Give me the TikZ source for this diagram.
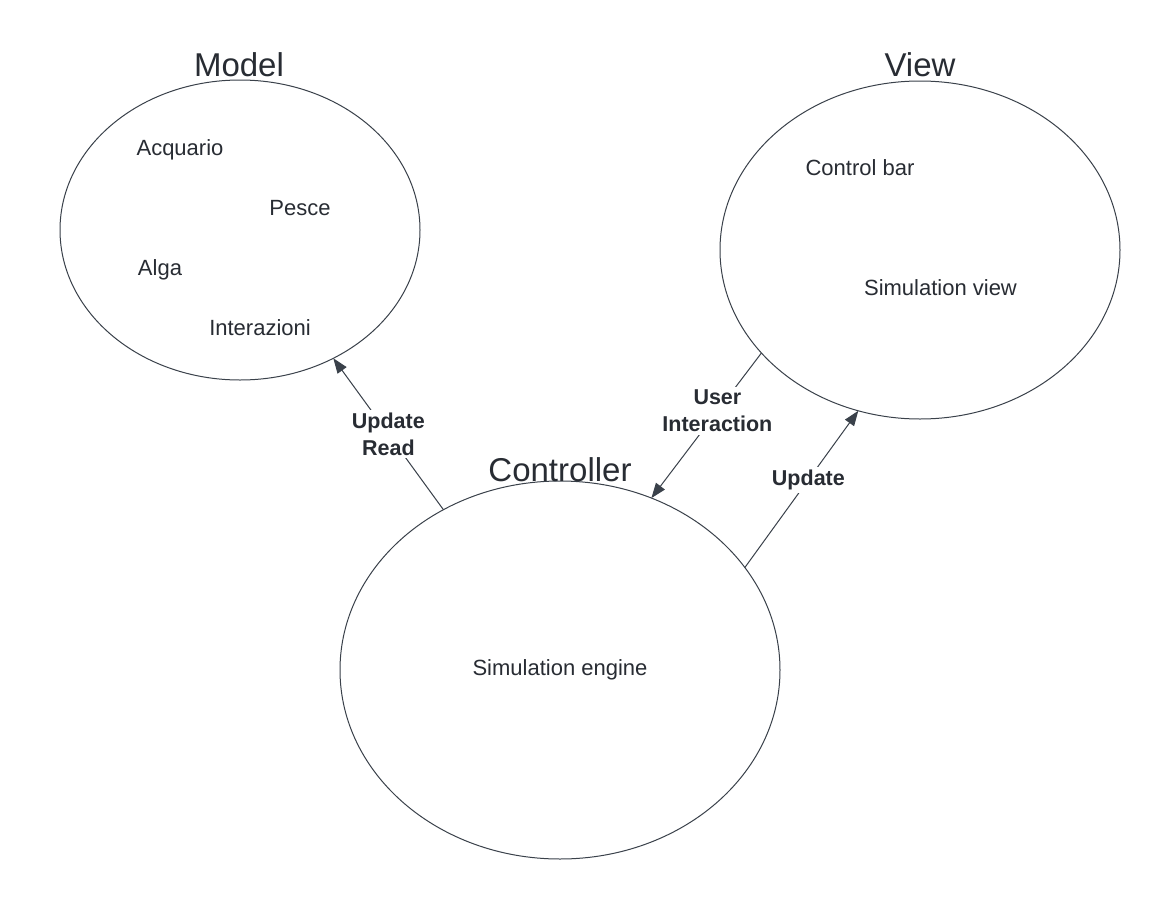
\documentclass[tikz,border=0pt]{standalone}
\usepackage{fontspec}
\setmainfont{Liberation Sans}
\usetikzlibrary{shapes.geometric,arrows.meta}
\definecolor{ink}{HTML}{282C33}
\definecolor{edge}{HTML}{3A414A}
\begin{document}
\begin{tikzpicture}[x=1pt,y=-1pt,
  blob/.style={draw=edge, line width=1pt, ellipse, inner sep=0pt, outer sep=0pt},
  title/.style={text=ink, font=\fontsize{33}{40}\selectfont, anchor=base, inner sep=0pt},
  item/.style={text=ink, font=\fontsize{22}{26}\selectfont, anchor=base, inner sep=0pt},
  lbl/.style={text=ink, font=\fontsize{21.5}{27}\selectfont\bfseries, fill=white, align=center, inner sep=3pt},
  conn/.style={draw=edge, line width=1pt, -{Triangle[length=15pt,width=11pt]}}
]
\useasboundingbox[fill=white] (0,0) rectangle (1160,900);
\node[blob, minimum width=360pt, minimum height=300pt] (model) at (240,230) {};
\node[blob, minimum width=400pt, minimum height=338pt] (view) at (920,250) {};
\node[blob, minimum width=440pt, minimum height=378pt] (ctrl) at (560,670) {};

\node[title] (modelT) at (239,76) {Model};
\node[title] (viewT) at (920,76) {View};
\node[title] (ctrlT) at (560,481) {Controller};

\node[item] (acq) at (180,155.7) {Acquario};
\node[item] (pes) at (300,215.3) {Pesce};
\node[item] (alg) at (160,275.7) {Alga};
\node[item] (int) at (260,335.7) {Interazioni};
\node[item] (cbar) at (860,175.3) {Control bar};
\node[item] (sview) at (940.5,295.3) {Simulation view};
\node[item] (seng) at (560,675.3) {Simulation engine};

\draw[conn] (ctrl) -- node[lbl, pos=0.5] (l1) {Update\\Read} (model);
\draw[conn] (view.213.3) -- node[lbl, pos=0.40] (l2) {User\\Interaction} (ctrl.62.6);
\draw[conn] (ctrl.29.2) -- node[lbl, pos=0.56] (l3) {Update} (view.249);
\end{tikzpicture}
\end{document}
